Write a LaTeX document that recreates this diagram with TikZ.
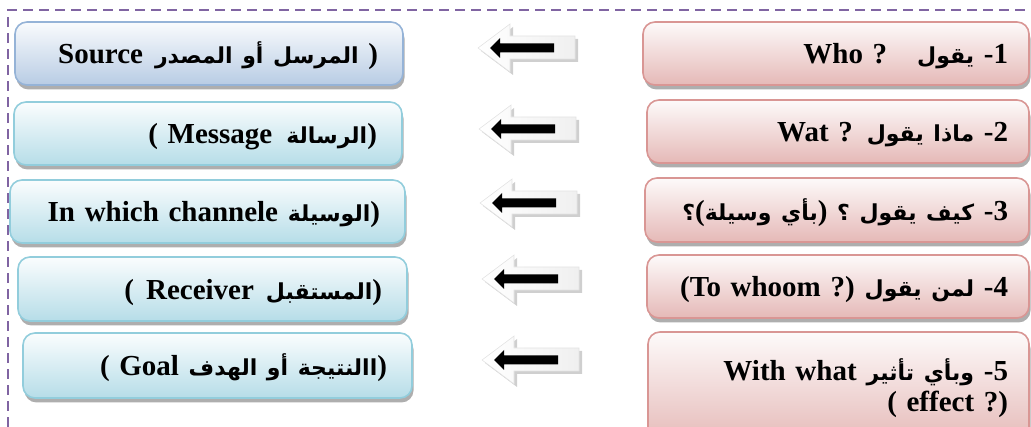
\documentclass[tikz,border=0pt]{standalone}
\usepackage{fontspec}
\setmainfont{Liberation Serif}
\newfontfamily\arabicfont[Script=Arabic]{DejaVu Sans}
\TeXXeTstate=1
\usetikzlibrary{shadows}
% Arabic run, set right to left
\newcommand\artxt[1]{{\arabicfont\bfseries\fontsize{22}{26}\selectfont\beginR #1\endR}}
\definecolor{frameviolet}{HTML}{8064A2}
\definecolor{srcline}{HTML}{95B3D7}
\definecolor{srcfill}{HTML}{B8CCE4}
\definecolor{aqualine}{HTML}{92CDDC}
\definecolor{aquafill}{HTML}{B6DDE8}
\definecolor{roseline}{HTML}{D99694}
\definecolor{rosefill}{HTML}{E5B9B7}
\tikzset{
  card/.style={rounded corners=12pt, line width=1.6pt, minimum height=63pt,
    align=right, font=\bfseries\fontsize{29}{31}\selectfont,
    drop shadow={shadow xshift=1.5pt, shadow yshift=-4.5pt, opacity=.45, fill=black!70}},
  oneline/.style={text height=24pt, text depth=3pt},
  srccard/.style={card, oneline, draw=srcline, top color=white!92!srcfill, bottom color=srcfill, inner xsep=25pt},
  aquacard/.style={card, oneline, draw=aqualine, top color=white!94!aquafill, bottom color=aquafill, inner xsep=25pt},
  rosecard/.style={card, draw=roseline, top color=white!93!rosefill, bottom color=rosefill, inner xsep=21pt},
  pics/blockarrow/.style={code={
    % soft grey shadow behind the hollow arrow
    \fill[gray!38] (3,3) -- (35,-21) -- (35,-9) -- (100,-9) -- (100,14) -- (35,14) -- (35,27) -- cycle;
    % hollow light arrow
    \path[left color=white, right color=gray!12, draw=gray!22, line width=.6pt]
      (0,0) -- (32,-24) -- (32,-12) -- (97,-12) -- (97,11) -- (32,11) -- (32,24) -- cycle;
    % solid black arrow inside
    \fill[black] (12,0) -- (22,-10) -- (22,-4.5) -- (76,-4.5) -- (76,4.5) -- (22,4.5) -- (22,10) -- cycle;
  }}
}
\begin{document}
\begin{tikzpicture}[x=1pt,y=-1pt]
\useasboundingbox (0,0) rectangle (1031,427);
\clip (0,0) rectangle (1031,427);

% dashed frame along the top and left
\draw[frameviolet, line width=2.8pt, dash pattern=on 10pt off 6pt] (8,427) -- (8,10) -- (1031,10);

% right column: the questions
\node[rosecard, oneline, text width=344pt] (q1) at (836,53.5)
  {Who ?\hspace{30pt}\artxt{يقول} -1};
\node[rosecard, oneline, text width=340pt] (q2) at (838,131.5)
  {Wat ?\hspace{14pt}\artxt{ماذا يقول} -2};
\node[rosecard, oneline, text width=342pt, minimum height=64pt] (q3) at (837,210)
  {\artxt{؟}(\artxt{بأي وسيلة}) \artxt{؟} \artxt{كيف يقول} -3};
\node[rosecard, oneline, text width=340pt] (q4) at (838,286.5)
  {(To whoom ?)\hspace{10pt}\artxt{لمن يقول} -4};
\node[rosecard, text width=339pt, minimum height=113pt] (q5) at (838.5,388.5)
  {With what\hspace{10pt}\artxt{وبأي تأثير} -5\\( effect ?)\hspace*{16pt}};

% left column: the elements
\node[srccard, text width=338pt] (e1) at (209,53.5)
  {Source\hspace{12pt}\artxt{المرسل أو المصدر} )};
\node[aquacard, text width=338pt] (e2) at (208,133.5)
  {( Message\hspace{14pt}\artxt{الرسالة})};
\node[aquacard, text width=345pt] (e3) at (207.5,211.5)
  {In which channele \artxt{الوسيلة})};
\node[aquacard, text width=339pt, minimum height=64pt] (e4) at (212.5,289)
  {(\hspace{12pt}Receiver\hspace{12pt}\artxt{المستقبل})};
\node[aquacard, text width=339pt, minimum height=65pt] (e5) at (217.5,365.5)
  {( Goal \artxt{االنتيجة أو الهدف})};

% arrows from each question to its element
\pic (a1) at (478,48) {blockarrow};
\pic (a2) at (479,129) {blockarrow};
\pic (a3) at (480,203) {blockarrow};
\pic (a4) at (482,279) {blockarrow};
\pic (a5) at (482,360) {blockarrow};
\end{tikzpicture}
\end{document}
